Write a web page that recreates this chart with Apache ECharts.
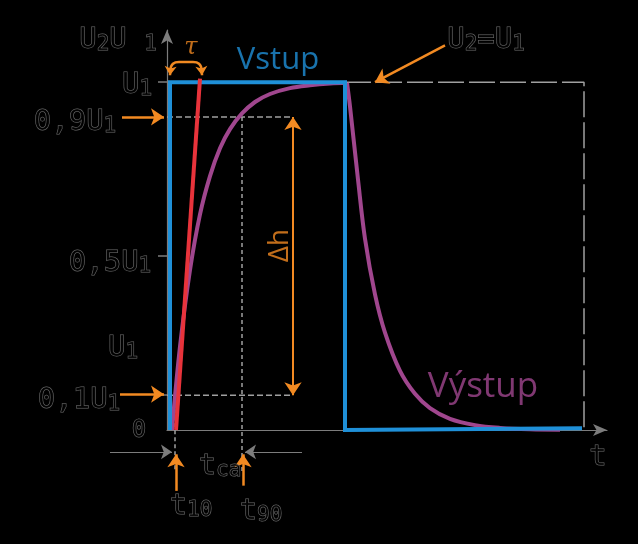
<!DOCTYPE html>
<html><head><meta charset="utf-8">
<script src="https://cdn.jsdelivr.net/npm/echarts@6/dist/echarts.min.js"></script>
<style>html,body{margin:0;padding:0;background:#000}#c{width:638px;height:544px}</style>
</head><body><div id="c"></div>
<script>
// ---- data (time in arbitrary units, voltage in multiples of U1) ----
const inputT  = [3, 3, 178, 178, 415];
const inputV  = [0, 1, 1, 0, 0.005];
const outputT = [5, 13, 23, 33, 43, 53, 63, 75, 88, 103, 123, 143, 163, 180,
                 183, 191, 198, 208, 218, 233, 248, 263, 283, 308, 333, 363, 393];
const outputV = [0, 0.24, 0.46, 0.62, 0.73, 0.81, 0.865, 0.91, 0.943, 0.966, 0.983, 0.991, 0.996, 0.998,
                 0.93, 0.72, 0.55, 0.39, 0.28, 0.17, 0.104, 0.063, 0.032, 0.014, 0.006, 0.002, 0.001];
const outputPeakIndex = 13;
const tangentT = [9, 33];
const tangentV = [0, 1.01];
const frameT = [178, 417, 417];
const frameV = [1, 1, 0];
const t10 = 8, t90 = 75, tMark = 126;
const level90 = 0.9, level10 = 0.1;
const yTickValues = [0.1, 0.5, 1];
const texts = ['{m|U}{s|2}{m|U }{s|1}', '{m|U}{s|1}', '{m|0,9U}{s|1}', '{m|0,5U}{s|1}', '{m|U}{s|1}',
               '{m|0,1U}{s|1}', '{z|0}', '{m|t}', '{m|t}{s|ca}', '{m|t}{s|10}', '{m|t}{s|90}',
               'Vstup', 'Výstup', '{m|U}{s|2}{m|=U}{s|1}', 'τ', 'Δh'];

// ---- layout of annotations (positions in data coords) ----
const annoPos = [[-49,1.12],[-30,0.99],[-92,0.885],[-57,0.48],[-44,0.235],[-88,0.085],[-28,-0.003],
                 [431,-0.078],[53,-0.105],[24,-0.22],[94,-0.235],[111,1.063],[316,0.124],[319,1.12],[24,1.10],[113,0.53]];
const GRAY = '#7c7c7c', ORANGE = '#f28a22', BLUE = '#1f90d8', PURPLE = '#a0468e', RED = '#e8333b';
const outline = {color: '#000', textBorderColor: '#8a8a8a', textBorderWidth: 1.0};
const rich = {
  m: Object.assign({fontFamily: 'DejaVu Sans Mono', fontSize: 29, lineHeight: 29, verticalAlign: 'top', padding: [0,0,14,0]}, outline),
  s: Object.assign({fontFamily: 'DejaVu Sans Mono', fontSize: 21, lineHeight: 21, verticalAlign: 'bottom'}, outline),
  z: Object.assign({fontFamily: 'DejaVu Sans Mono', fontSize: 24}, outline)
};
const plain = {textBorderWidth: 0, textShadowBlur: 0};
const special = {
  11: Object.assign({color: BLUE, fontFamily: 'Open Sans', fontSize: 31}, plain),
  12: Object.assign({color: PURPLE, fontFamily: 'Open Sans', fontSize: 35}, plain),
  14: Object.assign({color: ORANGE, fontFamily: 'DejaVu Serif', fontSize: 24, fontStyle: 'italic'}, plain),
  15: Object.assign({color: ORANGE, fontFamily: 'Open Sans', fontSize: 28, rotate: 90}, plain)
};
const annoData = texts.map((t, i) => ({
  value: annoPos[i],
  label: Object.assign({show: true, position: 'inside', formatter: t, rich: rich}, special[i] || {})
}));

function zip(a, b) { return a.map((x, i) => [x, b[i]]); }
const outputPts = zip(outputT, outputV);
function seg(p, q, color, width, type) {
  return {type: 'line', data: [p, q], symbol: 'none', silent: true, clip: false,
          lineStyle: {color: color, width: width, type: type}, z: 2};
}
function arrow(p, q, color, width, both, size) {
  return {type: 'lines', coordinateSystem: 'cartesian2d', silent: true, z: 6, clip: false,
    symbol: [both ? 'arrow' : 'none', 'arrow'], symbolSize: size || 13,
    lineStyle: {color: color, width: width, opacity: 1, curveness: 0},
    data: [{coords: [p, q]}]};
}

const chart = echarts.init(document.getElementById('c'));
chart.setOption({
  backgroundColor: '#000',
  animation: false,
  grid: {left: 167, right: 31, top: 30, bottom: 114},
  xAxis: {type: 'value', min: 0, max: 440,
    axisLine: {show: true, onZero: false, symbol: ['none', 'arrow'], symbolSize: [9, 14], lineStyle: {color: GRAY, width: 1.2}},
    axisTick: {show: false}, axisLabel: {show: false}, splitLine: {show: false}},
  yAxis: {type: 'value', min: 0, max: 1.15,
    axisLine: {show: true, onZero: false, symbol: ['none', 'arrow'], symbolSize: [9, 14], lineStyle: {color: GRAY, width: 1.2}},
    axisTick: {show: true, inside: false, length: 9, customValues: yTickValues, lineStyle: {color: GRAY, width: 1.5}},
    axisLabel: {show: false}, splitLine: {show: false}},
  series: [
    seg([0, level90], [tMark, level90], '#a0a0a0', 1.5, [6, 3]),
    seg([0, level10], [tMark, level10], '#a0a0a0', 1.5, [6, 3]),
    seg([t90, level90], [t90, -0.12], '#a0a0a0', 1.5, [4, 3]),
    seg([t10, level10], [t10, -0.12], '#a0a0a0', 1.5, [4, 3]),
    {type: 'line', data: zip(frameT, frameV), symbol: 'none', silent: true, z: 2,
     lineStyle: {color: '#a0a0a0', width: 1.5, type: [26, 5]}},
    {type: 'line', data: outputPts.slice(0, outputPeakIndex + 1), symbol: 'none', smooth: 0.35, z: 3,
     lineStyle: {color: PURPLE, width: 4}},
    {type: 'line', data: outputPts.slice(outputPeakIndex), symbol: 'none', smooth: 0.35, z: 3,
     lineStyle: {color: PURPLE, width: 4}},
    {type: 'line', data: zip(inputT, inputV), symbol: 'none', z: 4,
     lineStyle: {color: BLUE, width: 4, join: 'miter'}},
    {type: 'line', data: zip(tangentT, tangentV), symbol: 'none', z: 5,
     lineStyle: {color: RED, width: 4}},
    // tau bracket
    {type: 'line', data: [[3, 1.03], [6, 1.053], [12, 1.058], [26, 1.058], [32, 1.053], [35, 1.03]],
     symbol: 'none', smooth: true, clip: false, z: 6, lineStyle: {color: ORANGE, width: 2.5}},
    arrow([3.5, 1.04], [3, 1.02], ORANGE, 2.5, false, 9),
    arrow([34.5, 1.04], [35, 1.02], ORANGE, 2.5, false, 9),
    arrow([-45, level90], [-3, level90], ORANGE, 2.5),
    arrow([-47, 0.103], [-3, 0.103], ORANGE, 2.5),
    arrow([278, 1.106], [208, 1.0], ORANGE, 2.5),
    arrow([tMark, 0.1], [tMark, 0.9], ORANGE, 2, true),
    arrow([9, -0.175], [9, -0.07], ORANGE, 2.5),
    arrow([76, -0.16], [76, -0.07], ORANGE, 2.5),
    arrow([-57, -0.063], [5, -0.063], GRAY, 1.2, false, 11),
    arrow([135, -0.063], [78, -0.063], GRAY, 1.2, false, 11),
    {type: 'scatter', data: annoData, symbolSize: 0, silent: true, z: 10, clip: false}
  ]
});
</script></body></html>
